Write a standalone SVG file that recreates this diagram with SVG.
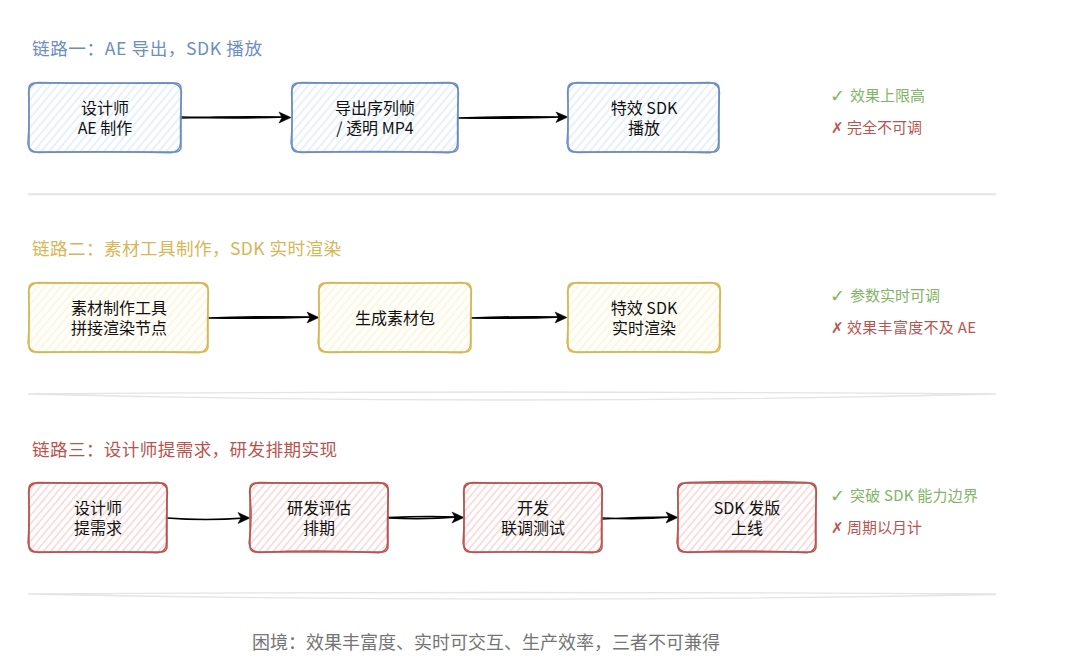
<svg xmlns="http://www.w3.org/2000/svg" width="1080" height="671" viewBox="0 0 1080 671">
<style>
text{font-family:"Noto Sans CJK SC","Noto Sans",sans-serif}
.n{font-size:16px;fill:#111;text-anchor:middle}
.t{font-size:17.6px}
.s{font-size:15px}
.b{fill:#6c8ebf}.y{fill:#d6b656}.r{fill:#b85450}.g{fill:#82b366}
.m{font-family:"DejaVu Sans",sans-serif;font-weight:bold}
.sb{stroke:#6c8ebf}.sy{stroke:#d6b656}.sr{stroke:#b85450}
.box{stroke-width:1.5;fill:none}.sk{stroke-width:1.4;fill:none}
.div{stroke:#e4e4e4;stroke-width:1.3;fill:none}
.arr{stroke:#000;stroke-width:1.5;fill:none}
.head{fill:#000;stroke:#000;stroke-width:.5}
</style>
<defs>
<pattern id="hb" patternUnits="userSpaceOnUse" width="5.500" height="6" patternTransform="rotate(-50)"><line x1="0" y1="3" x2="5.500" y2="3" stroke="#dae8fc" stroke-width="1.3"/></pattern>
<pattern id="hy" patternUnits="userSpaceOnUse" width="5.500" height="6" patternTransform="rotate(-50)"><line x1="0" y1="3" x2="5.500" y2="3" stroke="#fff2cc" stroke-width="1.4"/></pattern>
<pattern id="hr" patternUnits="userSpaceOnUse" width="5.500" height="5.500" patternTransform="rotate(-50)"><line x1="0" y1="2.700" x2="5.500" y2="2.700" stroke="#f8cecc" stroke-width="1.3"/></pattern>
</defs>
<rect width="1080" height="671" fill="#fff"/>

<text class="t b" x="32" y="55" textLength="230">链路一：AE 导出，SDK 播放</text>
<text class="t y" x="32" y="255" textLength="309">链路二：素材工具制作，SDK 实时渲染</text>
<text class="t r" x="32" y="456" textLength="305">链路三：设计师提需求，研发排期实现</text>

<g id="connectors">
<path class="arr" d="M181 117Q235 119 286 117M181 118Q235 116 286 117"/><path class="head" d="M291 117.500L279 112L282 117.500L279 123Z"/>
<path class="arr" d="M458 118Q510 119 562 117M458 118Q510 116 562 117"/><path class="head" d="M568 117L556 112L559 117L556 122.500Z"/>
<path class="arr" d="M208 318Q262 319 313 317M208 318Q262 316 313 317"/><path class="head" d="M319 317.500L307 312L310 317.500L307 323Z"/>
<path class="arr" d="M471 318Q520 319 562 317M471 318Q520 316 562 317"/><path class="head" d="M567 317.500L555 312L558 317.500L555 323Z"/>
<path class="arr" d="M167 518Q205 521 245 518"/><path class="head" d="M250 518L238 512.500L241 518L238 523.500Z"/>
<path class="arr" d="M388 518Q425 520 458 517M388 517.500Q425 516 458 517"/><path class="head" d="M464 517.500L452 512L455 517.500L452 523Z"/>
<path class="arr" d="M602 518Q640 520 672 517M602 519Q640 517 672 517"/><path class="head" d="M678 517.500L666 512L669 517.500L666 523Z"/>
</g>

<g id="n1a"><rect x="29" y="83" width="152" height="69" rx="5" fill="url(#hb)"/><rect class="box sb" x="29" y="83" width="152" height="69" rx="5"/><path class="sk sb" d="M38 82.500Q105 84 172 83Q180 84 181.500 92Q180 117 180.500 143Q180 152 171 152.800Q105 151 38 152.500Q29 151 27.800 144Q30 117 28.500 92Q29 84 38 82.500"/>
<text class="n" x="105" y="114"><tspan x="105">设计师</tspan><tspan x="105" dy="20">AE 制作</tspan></text></g>
<g id="n1b"><rect x="292" y="83" width="166" height="69" rx="5" fill="url(#hb)"/><rect class="box sb" x="292" y="83" width="166" height="69" rx="5"/><path class="sk sb" d="M301 82.500Q375 84 449 82.500Q458 84 458.500 92Q457 117 457.500 143Q457 152 449 152.800Q375 150.500 301 152.500Q292 151 291 143Q293 117 291.500 92Q292 84 301 82.500"/>
<text class="n" x="375" y="114"><tspan x="375">导出序列帧</tspan><tspan x="375" dy="20">/ 透明 MP4</tspan></text></g>
<g id="n1c"><rect x="568" y="83" width="151" height="69" rx="5" fill="url(#hb)"/><rect class="box sb" x="568" y="83" width="151" height="69" rx="5"/><path class="sk sb" d="M577 82.500Q643 84 710 82.500Q719 84 719.500 92Q718 117 718.500 143Q718 152 710 152.800Q643 151 577 152.500Q568 151 567 143Q569 117 567.500 92Q568 84 577 82.500"/>
<text class="n" x="644" y="114"><tspan x="644">特效 SDK</tspan><tspan x="644" dy="20">播放</tspan></text></g>

<g id="n2a"><rect x="29" y="283" width="179" height="69" rx="5" fill="url(#hy)"/><rect class="box sy" x="29" y="283" width="179" height="69" rx="5"/><path class="sk sy" d="M38 282.500Q118 284 199 282.500Q208 284 208.500 292Q207 317 207.500 343Q207 352 199 352.800Q118 351 38 352.500Q29 351 28 343Q30 317 28.500 292Q29 284 38 282.500"/>
<text class="n" x="119" y="314"><tspan x="119">素材制作工具</tspan><tspan x="119" dy="20">拼接渲染节点</tspan></text></g>
<g id="n2b"><rect x="319" y="283" width="152" height="69" rx="5" fill="url(#hy)"/><rect class="box sy" x="319" y="283" width="152" height="69" rx="5"/><path class="sk sy" d="M328 282.500Q395 284 462 282.500Q471 284 471.500 292Q470 317 470.500 343Q470 352 462 352.800Q395 351 328 352.500Q319 351 318 343Q320 317 318.500 292Q319 284 328 282.500"/>
<text class="n" x="395" y="324">生成素材包</text></g>
<g id="n2c"><rect x="568" y="283" width="152" height="69" rx="5" fill="url(#hy)"/><rect class="box sy" x="568" y="283" width="152" height="69" rx="5"/><path class="sk sy" d="M577 282.500Q644 284 711 282.500Q720 284 720.500 292Q719 317 719.500 343Q719 352 711 352.800Q644 351 577 352.500Q568 351 567 343Q569 317 567.500 292Q568 284 577 282.500"/>
<text class="n" x="644" y="314"><tspan x="644">特效 SDK</tspan><tspan x="644" dy="20">实时渲染</tspan></text></g>

<g id="n3a"><rect x="29" y="483" width="138" height="69" rx="5" fill="url(#hr)"/><rect class="box sr" x="29" y="483" width="138" height="69" rx="5"/><path class="sk sr" d="M38 482.500Q98 484 158 482.500Q167 484 167.500 492Q166 517 166.500 543Q166 552 158 552.800Q98 551 38 552.500Q29 551 28 543Q30 517 28.500 492Q29 484 38 482.500"/>
<text class="n" x="98" y="514"><tspan x="98">设计师</tspan><tspan x="98" dy="20">提需求</tspan></text></g>
<g id="n3b"><rect x="250" y="483" width="138" height="69" rx="5" fill="url(#hr)"/><rect class="box sr" x="250" y="483" width="138" height="69" rx="5"/><path class="sk sr" d="M259 482.500Q319 484 379 482.500Q388 484 388.500 492Q387 517 387.500 543Q387 552 379 552.800Q319 549.500 259 552.500Q250 551 249 543Q253 517 249.500 492Q250 484 259 482.500"/>
<text class="n" x="319" y="514"><tspan x="319">研发评估</tspan><tspan x="319" dy="20">排期</tspan></text></g>
<g id="n3c"><rect x="464" y="483" width="138" height="69" rx="5" fill="url(#hr)"/><rect class="box sr" x="464" y="483" width="138" height="69" rx="5"/><path class="sk sr" d="M473 482.500Q533 484 593 482.500Q602 484 602.500 492Q601 517 601.500 543Q601 552 593 552.800Q533 551 473 552.500Q464 551 463 543Q465 517 463.500 492Q464 484 473 482.500"/>
<text class="n" x="533" y="514"><tspan x="533">开发</tspan><tspan x="533" dy="20">联调测试</tspan></text></g>
<g id="n3d"><rect x="678" y="483" width="138" height="69" rx="5" fill="url(#hr)"/><rect class="box sr" x="678" y="483" width="138" height="69" rx="5"/><path class="sk sr" d="M687 482.500Q747 480.500 807 482.500Q816 484 816.500 492Q815 517 815.500 543Q815 552 807 552.800Q747 549.500 687 552.500Q678 551 677 543Q679 517 677.500 492Q678 484 687 482.500"/>
<text class="n" x="747" y="514"><tspan x="747">SDK 发版</tspan><tspan x="747" dy="20">上线</tspan></text></g>

<text class="m g" x="830" y="102" font-size="18">✓</text><text class="s g" x="850" y="101">效果上限高</text>
<text class="m r" x="831" y="133" font-size="15">✗</text><text class="s r" x="847" y="133">完全不可调</text>
<text class="m g" x="830" y="302" font-size="18">✓</text><text class="s g" x="850" y="301">参数实时可调</text>
<text class="m r" x="831" y="333" font-size="15">✗</text><text class="s r" x="847" y="333" textLength="129">效果丰富度不及 AE</text>
<text class="m g" x="830" y="502" font-size="18">✓</text><text class="s g" x="850" y="501" textLength="128">突破 SDK 能力边界</text>
<text class="m r" x="831" y="533" font-size="15">✗</text><text class="s r" x="847" y="533">周期以月计</text>

<path class="div" d="M28 194Q500 195 996 194M28 194.500Q500 193.500 996 194.500"/>
<path class="div" d="M28 394Q500 390 996 394M28 394Q500 406 996 394"/>
<path class="div" d="M28 594Q500 591 996 594M28 594Q500 604 996 594.500"/>

<text x="486" y="649" font-size="18" fill="#757575" text-anchor="middle">困境：效果丰富度、实时可交互、生产效率，三者不可兼得</text>
</svg>
